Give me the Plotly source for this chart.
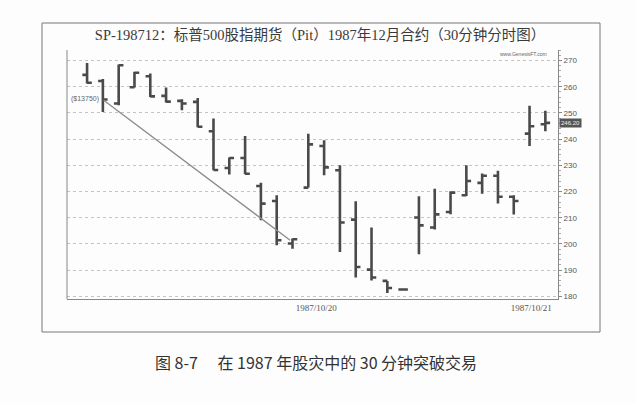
import plotly.graph_objects as go

# ---- data ----
bar_index = list(range(30))
opens  = [264.5, 262.2, 253.6, 259.8, 264.0, 256.5, 254.6, 254.2, 243.0, 229.0,
          232.8, 222.1, 216.4, 200.2, 221.5, 237.4, 228.1, 209.3, 190.2, 185.9,
          182.6, 210.1, 206.3, 212.2, 218.6, 223.3, 226.0, 218.0, 242.1, 245.7]
highs  = [269.0, 262.9, 268.5, 265.7, 265.0, 259.7, 255.2, 255.7, 247.9, 233.0,
          241.2, 223.4, 218.6, 202.1, 242.0, 239.6, 230.0, 216.3, 206.3, 185.9,
          182.6, 218.2, 221.1, 220.1, 230.0, 226.9, 227.9, 218.6, 252.7, 250.8]
lows   = [261.2, 250.3, 252.9, 259.7, 256.1, 254.0, 251.0, 244.5, 228.1, 226.5,
          226.6, 209.0, 199.5, 198.2, 221.5, 226.2, 196.9, 187.2, 186.1, 181.3,
          182.6, 196.1, 205.5, 211.3, 218.3, 219.2, 215.4, 211.2, 237.4, 243.0]
closes = [261.5, 255.1, 268.2, 265.3, 256.3, 254.3, 253.6, 244.7, 228.2, 232.8,
          226.8, 215.4, 201.4, 201.8, 238.0, 229.2, 208.2, 191.2, 187.2, 183.2,
          182.6, 207.1, 211.3, 219.6, 224.0, 226.0, 218.0, 216.4, 244.9, 246.2]

trend_x = [1.05, 12.85]
trend_y = [254.8, 201.4]

y_ticks = [180, 190, 200, 210, 220, 230, 240, 250, 260, 270]
x_tick_vals = [14.5, 28.1]
x_tick_labels = ["1987/10/20", "1987/10/21"]

title_text = "SP-198712：标普500股指期货（Pit）1987年12月合约（30分钟分时图）"
caption_text = "图 8-7　 在 1987 年股灾中的 30 分钟突破交易"
loss_label = "($13750)"
source_label = "www.GenesisFT.com"

BAR = "#4a4a4a"
serif = "Liberation Serif, Noto Sans CJK SC, serif"

fig = go.Figure()
fig.add_trace(go.Ohlc(
    x=bar_index, open=opens, high=highs, low=lows, close=closes,
    increasing=dict(line=dict(color=BAR, width=2.6)),
    decreasing=dict(line=dict(color=BAR, width=2.6)),
    tickwidth=0.3, showlegend=False, hoverinfo="skip",
))
fig.add_trace(go.Scatter(
    x=trend_x, y=trend_y, mode="lines",
    line=dict(color="#8a8a8a", width=1.3), showlegend=False, hoverinfo="skip",
))

fig.update_layout(
    width=636, height=405,
    margin=dict(l=67, r=78, t=50, b=106),
    paper_bgcolor="#fdfdfd", plot_bgcolor="#fdfdfd",
    showlegend=False,
    xaxis=dict(
        range=[-1.27, 29.8], rangeslider=dict(visible=False),
        showgrid=False, zeroline=False,
        showline=True, linecolor="#888", linewidth=1,
        tickmode="array", tickvals=x_tick_vals, ticktext=x_tick_labels,
        ticks="", tickfont=dict(family=serif, size=9, color="#555"),
    ),
    yaxis=dict(
        side="right", range=[179, 274],
        tickmode="array", tickvals=y_ticks,
        showgrid=True, gridcolor="#c4c4c4", griddash="dot", gridwidth=1,
        zeroline=False,
        showline=True, linecolor="#888", linewidth=1,
        ticks="outside", ticklen=3, tickcolor="#888",
        minor=dict(dtick=2, ticks="outside", ticklen=2, tickcolor="#aaa", showgrid=False),
        tickfont=dict(family="Arial, Liberation Sans, sans-serif", size=8, color="#555"),
    ),
    title=dict(text=title_text, x=(320 - 67) / 491, xref="paper", xanchor="center",
               y=1 - 35 / 405, yanchor="middle",
               font=dict(family=serif, size=14.5, color="#3a3a3a")),
)

# left border of plot area
fig.add_shape(type="line", xref="paper", yref="paper", x0=0, x1=0, y0=0, y1=1,
              line=dict(color="#888", width=1))
# outer frame
fig.add_shape(type="rect", xref="paper", yref="paper",
              x0=(42 - 67) / 491, x1=(600 - 67) / 491,
              y0=(299 - 332) / 249, y1=(299 - 23) / 249,
              line=dict(color="#777", width=1))

fig.add_annotation(x=1.0, y=trend_y[0] + 0.6, xref="x", yref="y",
                   text=loss_label, showarrow=False, xanchor="right", yanchor="middle",
                   xshift=-2, font=dict(family="Arial, sans-serif", size=7, color="#666"))
fig.add_annotation(x=1.0, y=1.0, xref="paper", yref="paper", yshift=0,
                   text=source_label, showarrow=False, xanchor="right", yanchor="top",
                   xshift=-10, borderpad=0,
                   font=dict(family="Arial, sans-serif", size=5, color="#666"))
fig.add_annotation(x=1.0, y=closes[-1], xref="paper", yref="y",
                   text=f"{closes[-1]:.2f}", showarrow=False, xanchor="left", yanchor="middle",
                   xshift=1, bgcolor="#555", borderpad=1,
                   font=dict(family="Arial, sans-serif", size=6, color="#eee"))
fig.add_annotation(x=(316 - 67) / 491, y=(299 - 362) / 249, xref="paper", yref="paper",
                   text=caption_text, showarrow=False, xanchor="center", yanchor="middle",
                   font=dict(family="Noto Sans CJK SC, sans-serif", size=16, color="#333"))

fig.write_html(
    "out.html",
    config={"displayModeBar": False},
    post_script="document.body.style.margin='0';document.body.style.overflow='hidden';",
)
